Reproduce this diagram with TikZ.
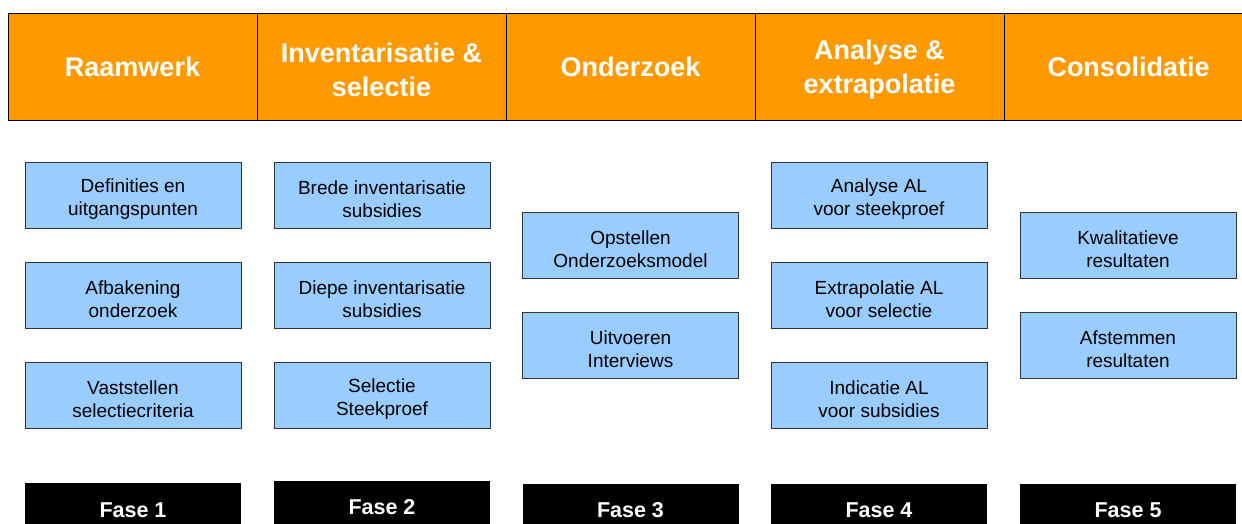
\documentclass[tikz,border=0pt]{standalone}
\usepackage{fontspec}
\setmainfont{Liberation Sans}
\definecolor{hdr}{HTML}{FF9900}
\definecolor{stepblue}{HTML}{99CCFF}
\newcommand\taskstrut{\rule{0pt}{22pt}}
\newcommand\headstrut{\rule{0pt}{26pt}}
\begin{document}
\begin{tikzpicture}[x=1pt,y=-1pt,
  head/.style={draw=black, line width=0.9pt, fill=hdr, text=white, font=\fontsize{27}{34}\selectfont\bfseries, align=center, minimum width=249pt, minimum height=107pt, inner sep=0pt, anchor=center},
  task/.style={draw=black!80, line width=0.8pt, fill=stepblue, text=black, font=\fontsize{19}{23}\selectfont, align=center, minimum width=216pt, minimum height=66pt, inner sep=0pt},
  phase/.style={fill=black, text=white, font=\fontsize{21.5}{26}\selectfont\bfseries, minimum width=216pt, inner sep=0pt}
]
\useasboundingbox (0,0) rectangle (1242,523);
\clip (0,0) rectangle (1242,523);
% headers
\node[head] (h1) at (132.5,66.5) {Raamwerk};
\node[head] (h2) at (381.5,66.5) {\headstrut Inventarisatie \&\\selectie};
\node[head] (h3) at (630.5,66.5) {Onderzoek};
\node[head] (h4) at (879.5,66.5) {\headstrut Analyse \&\\extrapolatie};
\node[head] (h5) at (1128.5,66.5) {Consolidatie};
% column 1
\node[task] (a1) at (133,195) {\taskstrut Definities en\\uitgangspunten};
\node[task] (a2) at (133,295) {\taskstrut Afbakening\\onderzoek};
\node[task] (a3) at (133,395) {\taskstrut Vaststellen\\selectiecriteria};
% column 2
\node[task] (b1) at (382,195) {\taskstrut Brede inventarisatie\\subsidies};
\node[task] (b2) at (382,295) {\taskstrut Diepe inventarisatie\\subsidies};
\node[task] (b3) at (382,395) {\taskstrut Selectie\\Steekproef};
% column 3
\node[task] (c1) at (630.5,245) {\taskstrut Opstellen\\Onderzoeksmodel};
\node[task] (c2) at (630.5,345) {\taskstrut Uitvoeren\\Interviews};
% column 4
\node[task] (d1) at (879,195) {\taskstrut Analyse AL\\voor steekproef};
\node[task] (d2) at (879,295) {\taskstrut Extrapolatie AL\\voor selectie};
\node[task] (d3) at (879,395) {\taskstrut Indicatie AL\\voor subsidies};
% column 5
\node[task] (e1) at (1128,245) {\taskstrut Kwalitatieve\\resultaten};
\node[task] (e2) at (1128,345) {\taskstrut Afstemmen\\resultaten};
% phases
\node[phase, minimum height=54pt] (f1) at (133,510) {Fase 1};
\node[phase, minimum height=52pt] (f2) at (382,507) {Fase 2};
\node[phase, minimum height=52pt] (f3) at (630.5,510) {Fase 3};
\node[phase, minimum height=52pt] (f4) at (879,510) {Fase 4};
\node[phase, minimum height=52pt] (f5) at (1128,510) {Fase 5};
\end{tikzpicture}
\end{document}
